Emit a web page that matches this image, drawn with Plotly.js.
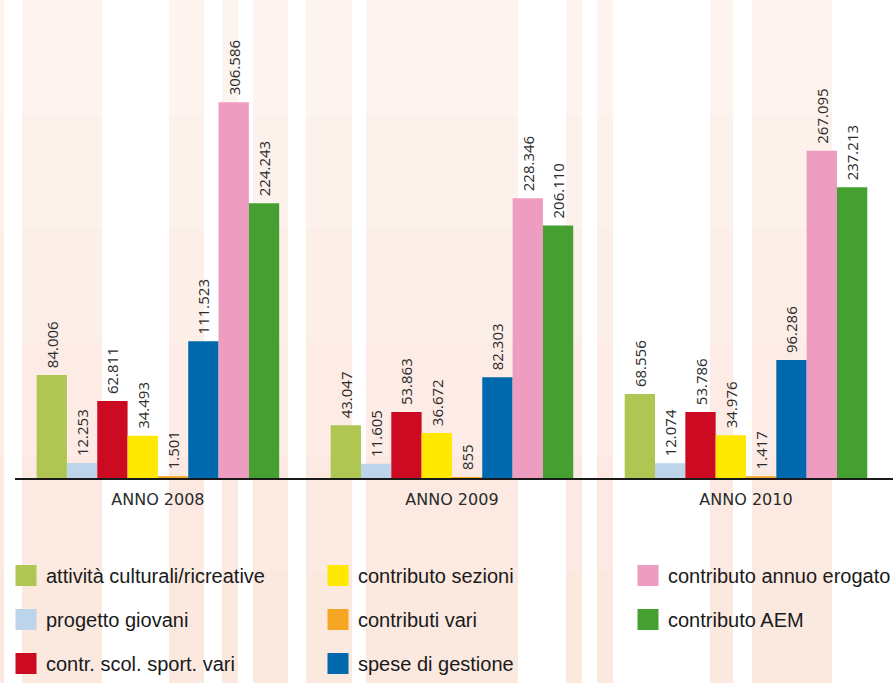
<!DOCTYPE html>
<html>
<head>
<meta charset="utf-8">
<script src="https://cdn.plot.ly/plotly-3.0.1.min.js"></script>
<style>
  html, body { margin: 0; padding: 0; background: #ffffff; }
  #chart { width: 893px; height: 683px; }
</style>
</head>
<body>
<div id="chart"></div>
<script>
// ---- data ----
const years = ["ANNO 2008", "ANNO 2009", "ANNO 2010"];
const attivitaCulturali = [84006, 43047, 68556];
const progettoGiovani = [12253, 11605, 12074];
const contrScolSport = [62811, 53863, 53786];
const contributoSezioni = [34493, 36672, 34976];
const contributiVari = [1501, 855, 1417];
const speseGestione = [111523, 82303, 96286];
const contributoAnnuo = [306586, 228346, 267095];
const contributoAEM = [224243, 206110, 237213];

const seriesNames = [
  "attività culturali/ricreative",
  "progetto giovani",
  "contr. scol. sport. vari",
  "contributo sezioni",
  "contributi vari",
  "spese di gestione",
  "contributo annuo erogato",
  "contributo AEM"
];
const seriesValues = [attivitaCulturali, progettoGiovani, contrScolSport, contributoSezioni,
                      contributiVari, speseGestione, contributoAnnuo, contributoAEM];

// ---- styles ----
const colors = ["#afc652", "#bcd5eb", "#cc0a21", "#ffe900", "#f5a623", "#0068ad", "#ee9cbf", "#46a031"];
const legendIds = ["legend", "legend", "legend", "legend2", "legend2", "legend2", "legend3", "legend3"];

// decorative background stripes (pixel columns)
const stripesPx = [[0,4],[22,102],[169,204],[222,238],[253,288],[306,352],[366,518],[566,582],[597,613],[710,733],[752,832]];
const stripeBands = ["#fdf4ef", "#fdf1eb", "#fcefe8", "#fcece5", "#fceae2", "#fbe8df"];

const W = 893, H = 683;
const mL = 15, mR = 0, mT = 0, mB = 205;
const pw = W - mL - mR, ph = H - mT - mB;
const px2paperX = p => (p - mL) / pw;
const py2paperY = p => 1 - (p - mT) / ph;

const barTraces = seriesNames.map((name, i) => ({
  type: "bar",
  name: name,
  x: years,
  y: seriesValues[i],
  marker: { color: colors[i] },
  texttemplate: "\u00a0%{y:,.0f}",
  textposition: "outside",
  textangle: -90,
  constraintext: "none",
  textfont: { family: "Open Sans, sans-serif", size: 15, color: "#2b2b2b" },
  cliponaxis: false,
  showlegend: false,
  hoverinfo: "skip"
}));

// legend entries (square swatches)
const legendTraces = seriesNames.map((name, i) => ({
  type: "scatter",
  mode: "markers",
  name: name,
  x: [null],
  y: [null],
  marker: { symbol: "square", size: 16, color: colors[i], line: { color: colors[i], width: 5 } },
  legend: legendIds[i],
  legendgroup: "g" + i,
  showlegend: true,
  hoverinfo: "skip"
}));

const shapes = [];
const nb = stripeBands.length;
stripesPx.forEach(s => {
  for (let b = 0; b < nb; b++) {
    shapes.push({
      type: "rect", xref: "paper", yref: "paper", layer: "below",
      x0: px2paperX(s[0]), x1: px2paperX(s[1]),
      y0: py2paperY(H * (b + 1) / nb), y1: py2paperY(H * b / nb),
      fillcolor: stripeBands[b], line: { width: 0 }
    });
  }
});

const legendFont = { family: "Liberation Sans Narrow, Liberation Sans, sans-serif", size: 20, color: "#1a1a1a" };
const legendBase = {
  orientation: "v", xanchor: "left", yanchor: "top",
  y: py2paperY(556), bgcolor: "rgba(0,0,0,0)", borderwidth: 0,
  font: legendFont, tracegroupgap: 15, itemclick: false, itemdoubleclick: false
};

const layout = {
  width: W, height: H,
  margin: { l: mL, r: mR, t: mT, b: mB, pad: 0, autoexpand: false },
  paper_bgcolor: "#ffffff",
  plot_bgcolor: "rgba(0,0,0,0)",
  separators: ",.",
  barmode: "group",
  bargap: 0.175,
  bargroupgap: 0,
  showlegend: true,
  xaxis: {
    type: "category",
    range: [-0.486, 2.5],
    showline: true, linecolor: "#1a1a1a", linewidth: 1.5,
    ticks: "", showgrid: false, zeroline: false,
    ticklabelstandoff: 6,
    tickfont: { family: "DejaVu Sans, sans-serif", size: 16, color: "#2b2b2b" },
    fixedrange: true
  },
  yaxis: {
    range: [0, 390000],
    showgrid: false, zeroline: false, showticklabels: false, showline: false,
    ticks: "", fixedrange: true
  },
  legend: Object.assign({}, legendBase, { x: px2paperX(6) }),
  legend2: Object.assign({}, legendBase, { x: px2paperX(318) }),
  legend3: Object.assign({}, legendBase, { x: px2paperX(628) }),
  shapes: shapes
};

Plotly.newPlot("chart", barTraces.concat(legendTraces), layout, { displayModeBar: false, staticPlot: true });
</script>
</body>
</html>
